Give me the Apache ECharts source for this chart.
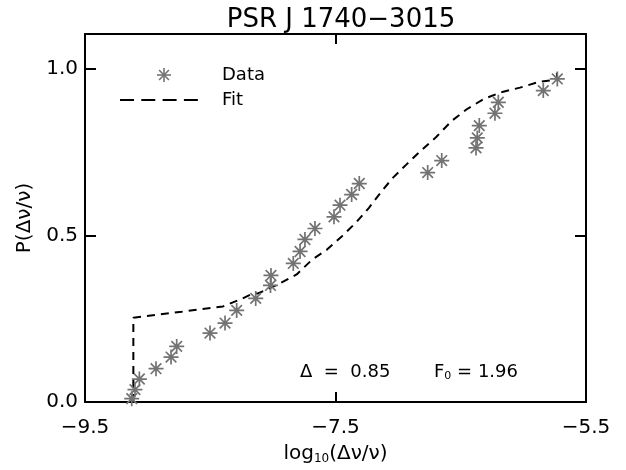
<!DOCTYPE html>
<html>
<head>
<meta charset="utf-8">
<script src="https://cdn.jsdelivr.net/npm/echarts@6/dist/echarts.min.js"></script>
<style>html,body{margin:0;padding:0;background:#fff}#c{width:626px;height:470px}</style>
</head>
<body>
<div id="c"></div>
<script>
// ---- data ----
var titleText = 'PSR J 1740\u22123015';
var dataX = [-9.127,-9.101,-9.066,-8.933,-8.813,-8.768,-8.502,-8.382,-8.289,-8.137,-8.019,-8.015,-7.837,-7.783,-7.744,-7.664,-7.512,-7.464,-7.371,-7.310,-6.764,-6.652,-6.378,-6.368,-6.352,-6.227,-6.200,-5.841,-5.729];
var dataY = [0.010,0.037,0.069,0.100,0.135,0.167,0.207,0.237,0.275,0.311,0.350,0.380,0.416,0.452,0.488,0.521,0.556,0.591,0.623,0.656,0.689,0.725,0.763,0.793,0.830,0.867,0.900,0.935,0.970];
var fitX = [-9.114,-9.114,-8.901,-8.728,-8.582,-8.398,-8.254,-8.159,-8.119,-7.959,-7.810,-7.688,-7.570,-7.448,-7.336,-7.233,-7.137,-7.045,-6.937,-6.817,-6.698,-6.572,-6.452,-6.320,-6.187,-6.027,-5.867,-5.732,-5.732];
var fitY = [0.0,0.253,0.263,0.271,0.278,0.287,0.309,0.326,0.326,0.353,0.383,0.427,0.457,0.498,0.539,0.583,0.630,0.672,0.712,0.755,0.795,0.844,0.879,0.909,0.929,0.944,0.962,0.968,1.0];
var xTicks = [-9.5,-7.5,-5.5];
var yTicks = [0,0.5,1.0];

// ---- symbol: asterisk ----
function asteriskPath(){
  var R=7, w=0.8, s='';
  [0,45,90,135].forEach(function(a){
    var t=a*Math.PI/180, c=Math.cos(t), sn=Math.sin(t);
    var pts=[[-R,-w],[R,-w],[R,w],[-R,w]].map(function(p){
      return [(p[0]*c-p[1]*sn).toFixed(3),(p[0]*sn+p[1]*c).toFixed(3)];
    });
    s+='M'+pts[0].join(',')+'L'+pts[1].join(',')+'L'+pts[2].join(',')+'L'+pts[3].join(',')+'Z';
  });
  return 'path://'+s;
}
var star = asteriskPath();
var starColor = '#737373';

function fmtNum(v){ return (v<0?'\u2212':'')+Math.abs(v).toFixed(1); }

var font = 'DejaVu Sans';
var chart = echarts.init(document.getElementById('c'), null, {renderer:'canvas'});
var axisLineStyle = {color:'#000', width:2};
function xAx(pos, showLabel){
  return {type:'value', position:pos, min:-9.5, max:-5.5,
    axisLine:{show:true, onZero:false, lineStyle:axisLineStyle},
    axisTick:{show:true, inside:true, length:10, customValues:xTicks, lineStyle:{color:'#000',width:2}},
    axisLabel:{show:showLabel, customValues:xTicks, formatter:fmtNum, color:'#000', fontFamily:font, fontSize:20, margin:16},
    splitLine:{show:false},
    name: showLabel ? '{a|log}{s|10}{a|(\u0394\u03bd/\u03bd)}' : '',
    nameLocation:'middle', nameGap:41,
    nameTextStyle:{rich:{a:{fontFamily:font,fontSize:20,color:'#000'}, s:{fontFamily:font,fontSize:12,color:'#000',padding:[10,0,0,0]}}}
  };
}
function yAx(pos, showLabel){
  return {type:'value', position:pos, min:0, max:1.105,
    axisLine:{show:true, onZero:false, lineStyle:axisLineStyle},
    axisTick:{show:true, inside:true, length:11, customValues:yTicks, lineStyle:{color:'#000',width:2}},
    axisLabel:{show:showLabel, customValues:yTicks, formatter:function(v){return v.toFixed(1);}, color:'#000', fontFamily:font, fontSize:20, margin:7},
    splitLine:{show:false},
    name: showLabel ? 'P(\u0394\u03bd/\u03bd)' : '',
    nameLocation:'middle', nameGap:50, nameRotate:90,
    nameTextStyle:{fontFamily:font,fontSize:20,color:'#000'}
  };
}

var legStar = [0,45,90,135].map(function(a){
  var t=a*Math.PI/180, r=7, cx=164, cy=75;
  return {type:'line', shape:{x1:cx-r*Math.cos(t), y1:cy-r*Math.sin(t), x2:cx+r*Math.cos(t), y2:cy+r*Math.sin(t)},
    style:{stroke:starColor, lineWidth:1.6}};
});

chart.setOption({
  animation:false,
  backgroundColor:'#fff',
  title:{text:titleText, left:336, top:2, textAlign:'center',
    textStyle:{fontFamily:font, fontSize:26, fontWeight:'normal', color:'#000'}},
  grid:{left:85, right:40, top:34, bottom:66},
  xAxis:[xAx('bottom',true), xAx('top',false)],
  yAxis:[yAx('left',true), yAx('right',false)],
  series:[
    {type:'line', name:'Fit', data:fitX.map(function(x,i){return [x,fitY[i]];}),
      showSymbol:false, symbol:'none', lineStyle:{color:'#000', width:2, type:[8,6]}, z:2},
    {type:'scatter', name:'Data', data:dataX.map(function(x,i){return [x,dataY[i]];}),
      symbol:star, symbolSize:15, itemStyle:{color:starColor, opacity:1}, z:3}
  ],
  graphic:legStar.concat([
    {type:'text', x:222, y:75, style:{text:'Data', fontFamily:font, fontSize:18, fill:'#000', verticalAlign:'middle'}},
    {type:'line', shape:{x1:120, y1:100, x2:198, y2:100}, style:{stroke:'#000', lineWidth:2, lineDash:[14,7.3]}},
    {type:'text', x:222, y:100, style:{text:'Fit', fontFamily:font, fontSize:18, fill:'#000', verticalAlign:'middle'}},
    {type:'text', x:300, y:372, style:{text:'\u0394  =  0.85', fontFamily:font, fontSize:18, fill:'#000', verticalAlign:'middle'}},
    {type:'text', x:434, y:372, style:{
      text:'{a|F}{s|0}{a| = 1.96}', verticalAlign:'middle',
      rich:{a:{fontFamily:font,fontSize:18,fill:'#000'}, s:{fontFamily:font,fontSize:11,fill:'#000',padding:[8,0,0,0]}}}}
  ])
});
</script>
</body>
</html>
